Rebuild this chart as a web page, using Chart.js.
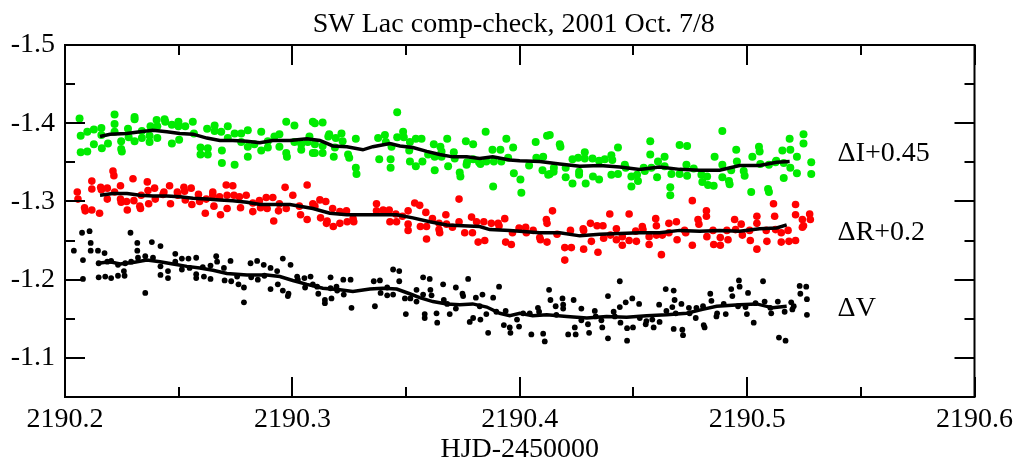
<!DOCTYPE html>
<html>
<head>
<meta charset="utf-8">
<title>SW Lac comp-check</title>
<script src="https://cdn.jsdelivr.net/npm/chart.js@4/dist/chart.umd.min.js"></script>
<style>
    html, body { margin: 0; padding: 0; background: #fff; }
    #wrap { width: 1019px; height: 461px; }
</style>
</head>
<body>
<div id="wrap"><canvas id="chart" width="1019" height="461"></canvas></div>
<script>
// HJD-2450000, magnitude differences
const iPoints = [
    [2190.2064,-1.406],[2190.2069,-1.384],[2190.2069,-1.363],[2190.2098,-1.389],[2190.2098,-1.364],
    [2190.2127,-1.392],[2190.2127,-1.373],[2190.2160,-1.394],[2190.2160,-1.385],[2190.2162,-1.368],
    [2190.2189,-1.374],[2190.2218,-1.411],[2190.2218,-1.399],[2190.2218,-1.389],[2190.2247,-1.377],
    [2190.2247,-1.367],[2190.2250,-1.364],[2190.2277,-1.393],[2190.2280,-1.382],[2190.2306,-1.408],
    [2190.2306,-1.405],[2190.2306,-1.377],[2190.2338,-1.390],[2190.2338,-1.381],[2190.2372,-1.384],
    [2190.2372,-1.376],[2190.2376,-1.396],[2190.2403,-1.404],[2190.2406,-1.396],[2190.2406,-1.381],
    [2190.2438,-1.405],[2190.2441,-1.402],[2190.2470,-1.398],[2190.2470,-1.374],[2190.2499,-1.402],
    [2190.2499,-1.396],[2190.2502,-1.379],[2190.2529,-1.396],[2190.2562,-1.402],[2190.2567,-1.387],
    [2190.2596,-1.369],[2190.2596,-1.360],[2190.2625,-1.393],[2190.2628,-1.368],[2190.2628,-1.360],
    [2190.2658,-1.397],[2190.2658,-1.390],[2190.2687,-1.389],[2190.2690,-1.365],[2190.2690,-1.349],
    [2190.2716,-1.396],[2190.2716,-1.381],[2190.2746,-1.387],[2190.2746,-1.347],[2190.2775,-1.387],
    [2190.2775,-1.376],[2190.2804,-1.391],[2190.2804,-1.370],[2190.2804,-1.357],[2190.2833,-1.373],
    [2190.2863,-1.389],[2190.2863,-1.365],[2190.2892,-1.377],[2190.2892,-1.369],[2190.2921,-1.383],
    [2190.2943,-1.386],[2190.2943,-1.370],[2190.2973,-1.402],[2190.2973,-1.362],[2190.2976,-1.357],
    [2190.3009,-1.397],[2190.3009,-1.376],[2190.3039,-1.373],[2190.3039,-1.366],[2190.3068,-1.376],
    [2190.3075,-1.383],[2190.3090,-1.402],[2190.3090,-1.362],
    [2190.3099,-1.400],[2190.3099,-1.373],[2190.3099,-1.362],[2190.3133,-1.401],[2190.3133,-1.371],
    [2190.3133,-1.362],[2190.3158,-1.383],[2190.3162,-1.386],[2190.3182,-1.357],[2190.3187,-1.369],
    [2190.3191,-1.381],[2190.3216,-1.387],[2190.3221,-1.377],[2190.3245,-1.360],[2190.3250,-1.356],
    [2190.3279,-1.380],[2190.3279,-1.343],[2190.3282,-1.335],[2190.3377,-1.381],[2190.3382,-1.354],
    [2190.3407,-1.385],[2190.3411,-1.376],[2190.3432,-1.354],[2190.3432,-1.343],[2190.3436,-1.370],
    [2190.3461,-1.414],[2190.3461,-1.382],[2190.3487,-1.389],[2190.3490,-1.382],[2190.3514,-1.365],
    [2190.3517,-1.351],[2190.3517,-1.376],[2190.3543,-1.380],[2190.3543,-1.345],[2190.3568,-1.380],
    [2190.3572,-1.351],[2190.3597,-1.360],[2190.3622,-1.373],[2190.3626,-1.357],[2190.3626,-1.340],
    [2190.3651,-1.370],[2190.3656,-1.364],[2190.3656,-1.357],[2190.3681,-1.380],[2190.3685,-1.345],
    [2190.3710,-1.363],[2190.3714,-1.355],[2190.3736,-1.337],[2190.3739,-1.332],[2190.3763,-1.377],
    [2190.3766,-1.347],[2190.3768,-1.350],[2190.3795,-1.373],[2190.3795,-1.354],[2190.3821,-1.350],
    [2190.3827,-1.348],[2190.3850,-1.389],[2190.3853,-1.351],[2190.3880,-1.366],[2190.3883,-1.319],
    [2190.3886,-1.351],[2190.3915,-1.366],[2190.3919,-1.351],[2190.3941,-1.380],[2190.3949,-1.356],
    [2190.3971,-1.369],[2190.3974,-1.336],[2190.4003,-1.328],[2190.4007,-1.311],[2190.4041,-1.346],
    [2190.4070,-1.376],[2190.4073,-1.356],[2190.4100,-1.340],[2190.4103,-1.357],[2190.4120,-1.384],
    [2190.4125,-1.334],[2190.4149,-1.338],
    [2190.4132,-1.385],[2190.4132,-1.335],[2190.4150,-1.343],[2190.4176,-1.373],[2190.4179,-1.370],
    [2190.4202,-1.343],[2190.4202,-1.331],[2190.4232,-1.354],[2190.4232,-1.323],[2190.4257,-1.356],
    [2190.4261,-1.338],[2190.4261,-1.334],[2190.4286,-1.363],[2190.4286,-1.355],[2190.4290,-1.323],
    [2190.4320,-1.355],[2190.4322,-1.332],[2190.4349,-1.352],[2190.4349,-1.328],[2190.4374,-1.354],
    [2190.4403,-1.359],[2190.4403,-1.334],[2190.4407,-1.353],[2190.4432,-1.369],[2190.4432,-1.335],
    [2190.4462,-1.347],[2190.4466,-1.343],[2190.4491,-1.332],[2190.4491,-1.319],[2190.4516,-1.334],
    [2190.4520,-1.326],[2190.4545,-1.343],[2190.4550,-1.339],[2190.4574,-1.377],[2190.4574,-1.360],
    [2190.4579,-1.343],[2190.4604,-1.331],[2190.4608,-1.351],[2190.4637,-1.357],[2190.4637,-1.345],
    [2190.4662,-1.318],[2190.4662,-1.308],[2190.4667,-1.335],[2190.4703,-1.372],[2190.4703,-1.335],
    [2190.4733,-1.347],[2190.4736,-1.371],[2190.4736,-1.333],[2190.4765,-1.342],[2190.4799,-1.334],
    [2190.4803,-1.325],[2190.4824,-1.332],[2190.4828,-1.321],[2190.4853,-1.320],[2190.4857,-1.357],
    [2190.4891,-1.390],[2190.4891,-1.347],[2190.4891,-1.331],[2190.4920,-1.326],[2190.4923,-1.322],
    [2190.4930,-1.340],[2190.4952,-1.366],[2190.4955,-1.351],[2190.4985,-1.339],[2190.4989,-1.333],
    [2190.5018,-1.312],[2190.5023,-1.357],[2190.5052,-1.370],[2190.5055,-1.364],[2190.5058,-1.348],
    [2190.5092,-1.316],[2190.5096,-1.312],[2190.5096,-1.347],[2190.5125,-1.350],[2190.5128,-1.352],
    [2190.5155,-1.365],
    [2190.5161,-1.349],[2190.5161,-1.330],[2190.5187,-1.380],[2190.5190,-1.366],[2190.5190,-1.343],
    [2190.5219,-1.357],[2190.5219,-1.336],[2190.5248,-1.386],[2190.5248,-1.374],[2190.5282,-1.350],
    [2190.5282,-1.335]
];

const rPoints = [
    [2190.2054,-1.312],[2190.2057,-1.303],[2190.2086,-1.292],[2190.2089,-1.288],[2190.2118,-1.326],
    [2190.2118,-1.316],[2190.2118,-1.289],[2190.2152,-1.285],[2190.2157,-1.318],[2190.2160,-1.315],
    [2190.2186,-1.317],[2190.2186,-1.303],[2190.2211,-1.339],[2190.2215,-1.333],[2190.2218,-1.312],
    [2190.2244,-1.320],[2190.2244,-1.303],[2190.2247,-1.299],[2190.2271,-1.300],[2190.2274,-1.289],
    [2190.2299,-1.329],[2190.2303,-1.301],[2190.2329,-1.294],[2190.2332,-1.291],[2190.2335,-1.308],
    [2190.2362,-1.325],[2190.2365,-1.314],[2190.2368,-1.297],[2190.2394,-1.317],[2190.2397,-1.303],
    [2190.2431,-1.309],[2190.2435,-1.312],[2190.2460,-1.320],[2190.2464,-1.297],[2190.2494,-1.312],
    [2190.2496,-1.308],[2190.2523,-1.318],[2190.2526,-1.313],[2190.2529,-1.302],[2190.2555,-1.317],
    [2190.2558,-1.296],[2190.2587,-1.309],[2190.2592,-1.300],[2190.2617,-1.285],[2190.2621,-1.303],
    [2190.2650,-1.312],[2190.2650,-1.308],[2190.2655,-1.294],[2190.2680,-1.306],[2190.2684,-1.283],
    [2190.2709,-1.321],[2190.2713,-1.308],[2190.2713,-1.291],[2190.2738,-1.320],[2190.2743,-1.308],
    [2190.2767,-1.306],[2190.2772,-1.292],[2190.2797,-1.308],[2190.2826,-1.298],[2190.2826,-1.287],
    [2190.2855,-1.301],[2190.2860,-1.292],[2190.2885,-1.305],[2190.2889,-1.291],[2190.2914,-1.305],
    [2190.2918,-1.275],[2190.2939,-1.288],[2190.2943,-1.297],[2190.2968,-1.318],[2190.2973,-1.291],
    [2190.3002,-1.308],[2190.3031,-1.294],[2190.3036,-1.283],[2190.3065,-1.321],[2190.3065,-1.277],
    [2190.3090,-1.297],
    [2190.3099,-1.294],[2190.3121,-1.302],[2190.3124,-1.279],[2190.3147,-1.300],[2190.3150,-1.272],
    [2190.3153,-1.275],[2190.3177,-1.291],[2190.3180,-1.268],[2190.3209,-1.287],[2190.3209,-1.272],
    [2190.3238,-1.288],[2190.3241,-1.274],[2190.3267,-1.278],[2190.3270,-1.274],[2190.3370,-1.297],
    [2190.3370,-1.288],[2190.3399,-1.289],[2190.3402,-1.288],[2190.3426,-1.289],[2190.3429,-1.274],
    [2190.3455,-1.284],[2190.3458,-1.274],[2190.3484,-1.281],[2190.3509,-1.288],[2190.3509,-1.271],
    [2190.3509,-1.263],[2190.3538,-1.298],[2190.3560,-1.295],[2190.3563,-1.268],[2190.3587,-1.286],
    [2190.3590,-1.268],[2190.3590,-1.252],[2190.3616,-1.278],[2190.3645,-1.272],[2190.3645,-1.264],
    [2190.3648,-1.260],[2190.3675,-1.283],[2190.3678,-1.271],[2190.3704,-1.267],[2190.3733,-1.303],
    [2190.3733,-1.274],[2190.3758,-1.260],[2190.3788,-1.280],[2190.3792,-1.260],[2190.3810,-1.274],
    [2190.3817,-1.248],[2190.3842,-1.274],[2190.3846,-1.250],[2190.3875,-1.272],[2190.3905,-1.272],
    [2190.3909,-1.269],[2190.3934,-1.278],[2190.3938,-1.248],[2190.3963,-1.245],[2190.3968,-1.260],
    [2190.3997,-1.266],[2190.4026,-1.267],[2190.4029,-1.260],[2190.4059,-1.263],[2190.4088,-1.254],
    [2190.4091,-1.251],[2190.4117,-1.277],[2190.4120,-1.272],[2190.4120,-1.248],[2190.4144,-1.288],
    [2190.4164,-1.258],[2190.4198,-1.241],[2190.4198,-1.225],[2190.4223,-1.263],[2190.4227,-1.241],
    [2190.4279,-1.265],[2190.4281,-1.263],[2190.4281,-1.239],[2190.4311,-1.272],[2190.4315,-1.249],
    [2190.4340,-1.269],[2190.4344,-1.235],[2190.4366,-1.269],[2190.4369,-1.253],[2190.4396,-1.284],
    [2190.4399,-1.257],[2190.4425,-1.265],[2190.4425,-1.251],[2190.4451,-1.255],[2190.4451,-1.244],
    [2190.4481,-1.284],[2190.4481,-1.250],[2190.4510,-1.262],[2190.4513,-1.249],[2190.4539,-1.268],
    [2190.4542,-1.264],[2190.4569,-1.255],[2190.4569,-1.245],[2190.4598,-1.278],[2190.4601,-1.269],
    [2190.4601,-1.257],[2190.4623,-1.232],[2190.4627,-1.257],[2190.4656,-1.272],[2190.4656,-1.260],
    [2190.4689,-1.274],[2190.4692,-1.251],[2190.4725,-1.263],[2190.4730,-1.260],[2190.4759,-1.301],
    [2190.4759,-1.244],[2190.4784,-1.277],[2190.4788,-1.271],[2190.4821,-1.288],[2190.4821,-1.281],
    [2190.4823,-1.255],[2190.4850,-1.263],[2190.4853,-1.245],[2190.4882,-1.254],[2190.4882,-1.244],
    [2190.4911,-1.263],[2190.4916,-1.251],[2190.4945,-1.277],[2190.4949,-1.264],[2190.4974,-1.271],
    [2190.4979,-1.257],[2190.5011,-1.263],[2190.5014,-1.250],[2190.5043,-1.281],[2190.5043,-1.272],
    [2190.5043,-1.239],[2190.5084,-1.263],[2190.5087,-1.249],[2190.5116,-1.297],[2190.5121,-1.281],
    [2190.5125,-1.264],[2190.5150,-1.260],[2190.5150,-1.248],
    [2190.5180,-1.263],[2190.5184,-1.249],[2190.5213,-1.296],[2190.5213,-1.283],[2190.5213,-1.250],
    [2190.5243,-1.277],[2190.5243,-1.267],[2190.5248,-1.269],[2190.5275,-1.284],[2190.5278,-1.277]
];

const vPoints = [
    [2190.2039,-1.237],[2190.2075,-1.260],[2190.2079,-1.225],[2190.2079,-1.201],[2190.2108,-1.262],
    [2190.2113,-1.247],[2190.2113,-1.237],[2190.2145,-1.237],[2190.2148,-1.221],[2190.2148,-1.203],
    [2190.2174,-1.234],[2190.2177,-1.204],[2190.2186,-1.223],[2190.2203,-1.224],[2190.2203,-1.202],
    [2190.2233,-1.219],[2190.2233,-1.205],[2190.2259,-1.211],[2190.2262,-1.205],[2190.2265,-1.221],
    [2190.2288,-1.260],[2190.2291,-1.223],[2190.2318,-1.247],[2190.2318,-1.237],[2190.2321,-1.228],
    [2190.2353,-1.230],[2190.2353,-1.183],[2190.2382,-1.248],[2190.2387,-1.228],[2190.2420,-1.243],
    [2190.2420,-1.217],[2190.2420,-1.206],[2190.2453,-1.211],[2190.2453,-1.202],[2190.2485,-1.233],
    [2190.2485,-1.223],[2190.2514,-1.227],[2190.2514,-1.213],[2190.2543,-1.227],[2190.2548,-1.215],
    [2190.2577,-1.228],[2190.2577,-1.207],[2190.2577,-1.202],[2190.2606,-1.216],[2190.2611,-1.204],
    [2190.2640,-1.218],[2190.2640,-1.201],[2190.2665,-1.230],[2190.2669,-1.223],[2190.2699,-1.215],
    [2190.2702,-1.199],[2190.2728,-1.224],[2190.2731,-1.198],[2190.2757,-1.204],[2190.2763,-1.194],
    [2190.2787,-1.190],[2190.2787,-1.171],[2190.2816,-1.221],[2190.2819,-1.203],[2190.2845,-1.224],
    [2190.2848,-1.200],[2190.2874,-1.219],[2190.2877,-1.205],[2190.2904,-1.215],[2190.2904,-1.188],
    [2190.2933,-1.211],[2190.2936,-1.194],[2190.2958,-1.227],[2190.2958,-1.186],[2190.2980,-1.179],
    [2190.2983,-1.182],[2190.2992,-1.219],[2190.3021,-1.204],[2190.3024,-1.200],[2190.3053,-1.202],
    [2190.3056,-1.190],[2190.3080,-1.204],[2190.3090,-1.194],
    [2190.3109,-1.191],[2190.3114,-1.182],[2190.3143,-1.174],[2190.3143,-1.170],[2190.3168,-1.203],
    [2190.3168,-1.189],[2190.3172,-1.176],[2190.3194,-1.191],[2190.3197,-1.186],[2190.3224,-1.200],
    [2190.3226,-1.181],[2190.3256,-1.200],[2190.3260,-1.164],[2190.3358,-1.198],[2190.3363,-1.166],
    [2190.3385,-1.199],[2190.3388,-1.183],[2190.3417,-1.190],[2190.3417,-1.180],[2190.3443,-1.213],
    [2190.3443,-1.181],[2190.3470,-1.211],[2190.3470,-1.198],[2190.3495,-1.176],[2190.3499,-1.156],
    [2190.3519,-1.176],[2190.3546,-1.187],[2190.3546,-1.172],[2190.3575,-1.203],[2190.3575,-1.181],
    [2190.3582,-1.156],[2190.3582,-1.151],[2190.3604,-1.201],[2190.3607,-1.187],[2190.3612,-1.180],
    [2190.3634,-1.157],[2190.3637,-1.145],[2190.3663,-1.194],[2190.3666,-1.174],[2190.3681,-1.169],
    [2190.3692,-1.156],[2190.3719,-1.190],[2190.3719,-1.163],[2190.3748,-1.182],[2190.3751,-1.179],
    [2190.3773,-1.201],[2190.3780,-1.146],[2190.3795,-1.151],[2190.3807,-1.177],[2190.3824,-1.166],
    [2190.3827,-1.149],[2190.3836,-1.181],[2190.3853,-1.156],[2190.3861,-1.132],[2190.3883,-1.177],
    [2190.3897,-1.159],[2190.3909,-1.191],[2190.3930,-1.142],[2190.3938,-1.160],[2190.3956,-1.139],
    [2190.3959,-1.132],[2190.3988,-1.149],[2190.3997,-1.140],[2190.4015,-1.157],[2190.4044,-1.157],
    [2190.4051,-1.130],[2190.4080,-1.164],[2190.4085,-1.159],[2190.4103,-1.131],[2190.4110,-1.121],
    [2190.4129,-1.187],[2190.4135,-1.174],
    [2190.4158,-1.166],[2190.4161,-1.155],[2190.4188,-1.176],[2190.4191,-1.168],[2190.4191,-1.163],
    [2190.4213,-1.130],[2190.4237,-1.174],[2190.4242,-1.139],[2190.4246,-1.130],[2190.4271,-1.163],
    [2190.4271,-1.148],[2190.4300,-1.143],[2190.4305,-1.132],[2190.4330,-1.160],[2190.4334,-1.153],
    [2190.4359,-1.148],[2190.4363,-1.139],[2190.4388,-1.179],[2190.4388,-1.125],[2190.4413,-1.159],
    [2190.4418,-1.153],[2190.4440,-1.198],[2190.4440,-1.165],[2190.4443,-1.145],[2190.4466,-1.171],
    [2190.4472,-1.138],[2190.4472,-1.122],[2190.4495,-1.176],[2190.4498,-1.139],[2190.4525,-1.169],
    [2190.4528,-1.151],[2190.4554,-1.143],[2190.4557,-1.147],[2190.4583,-1.149],[2190.4589,-1.139],
    [2190.4613,-1.168],[2190.4615,-1.146],[2190.4642,-1.188],[2190.4645,-1.160],[2190.4671,-1.165],
    [2190.4677,-1.186],[2190.4677,-1.137],[2190.4681,-1.174],[2190.4686,-1.157],[2190.4711,-1.169],
    [2190.4715,-1.136],[2190.4718,-1.129],[2190.4744,-1.164],[2190.4747,-1.157],[2190.4774,-1.151],
    [2190.4777,-1.164],[2190.4806,-1.166],[2190.4809,-1.142],[2190.4813,-1.139],[2190.4838,-1.182],
    [2190.4843,-1.173],[2190.4865,-1.153],[2190.4868,-1.157],[2190.4897,-1.169],[2190.4906,-1.156],
    [2190.4930,-1.188],[2190.4935,-1.179],[2190.4960,-1.166],[2190.4964,-1.199],[2190.4967,-1.191],
    [2190.4993,-1.165],[2190.4999,-1.156],[2190.5004,-1.183],[2190.5029,-1.145],[2190.5037,-1.170],
    [2190.5070,-1.198],[2190.5077,-1.172],[2190.5102,-1.164],[2190.5106,-1.157],[2190.5135,-1.172],
    [2190.5140,-1.126],[2190.5165,-1.159],[2190.5169,-1.122],[2190.5194,-1.171],[2190.5199,-1.162],
    [2190.5205,-1.166],[2190.5231,-1.192],[2190.5234,-1.182],[2190.5260,-1.191],[2190.5263,-1.175],
    [2190.5263,-1.155]
];

// running means drawn through each band
const iSmooth = [
    [2190.2154,-1.383],[2190.2198,-1.386],[2190.2271,-1.387],[2190.2330,-1.389],[2190.2387,-1.391],
    [2190.2448,-1.389],[2190.2505,-1.387],[2190.2563,-1.386],[2190.2624,-1.381],[2190.2681,-1.378],
    [2190.2738,-1.378],[2190.2800,-1.377],[2190.2857,-1.375],[2190.2914,-1.378],[2190.2989,-1.378],
    [2190.3064,-1.380],[2190.3121,-1.378],[2190.3178,-1.371],[2190.3240,-1.370],[2190.3310,-1.366],
    [2190.3354,-1.370],[2190.3429,-1.374],[2190.3473,-1.371],[2190.3530,-1.369],[2190.3591,-1.364],
    [2190.3648,-1.360],[2190.3705,-1.357],[2190.3767,-1.357],[2190.3824,-1.355],[2190.3881,-1.357],
    [2190.3956,-1.353],[2190.4000,-1.352],[2190.4088,-1.351],[2190.4176,-1.348],[2190.4264,-1.345],
    [2190.4352,-1.346],[2190.4440,-1.344],[2190.4527,-1.341],[2190.4615,-1.344],[2190.4703,-1.341],
    [2190.4791,-1.340],[2190.4879,-1.340],[2190.4967,-1.346],[2190.5055,-1.346],[2190.5130,-1.350],
    [2190.5187,-1.351]
];

const rSmooth = [
    [2190.2154,-1.308],[2190.2211,-1.310],[2190.2273,-1.310],[2190.2330,-1.308],[2190.2387,-1.307],
    [2190.2448,-1.307],[2190.2505,-1.306],[2190.2563,-1.304],[2190.2624,-1.303],[2190.2681,-1.302],
    [2190.2738,-1.301],[2190.2800,-1.299],[2190.2857,-1.296],[2190.2914,-1.296],[2190.2989,-1.296],
    [2190.3090,-1.291],[2190.3165,-1.285],[2190.3240,-1.283],[2190.3310,-1.283],[2190.3385,-1.283],
    [2190.3459,-1.283],[2190.3530,-1.279],[2190.3604,-1.274],[2190.3679,-1.270],[2190.3749,-1.269],
    [2190.3824,-1.268],[2190.3868,-1.264],[2190.3956,-1.263],[2190.4000,-1.262],[2190.4088,-1.260],
    [2190.4176,-1.260],[2190.4264,-1.256],[2190.4352,-1.258],[2190.4440,-1.259],[2190.4527,-1.260],
    [2190.4615,-1.260],[2190.4703,-1.263],[2190.4791,-1.262],[2190.4879,-1.263],[2190.4967,-1.262],
    [2190.5055,-1.265],[2190.5130,-1.266],[2190.5174,-1.270]
];

const vSmooth = [
    [2190.2145,-1.221],[2190.2198,-1.223],[2190.2242,-1.220],[2190.2299,-1.222],[2190.2360,-1.225],
    [2190.2418,-1.223],[2190.2475,-1.220],[2190.2536,-1.217],[2190.2593,-1.215],[2190.2651,-1.212],
    [2190.2712,-1.208],[2190.2800,-1.206],[2190.2888,-1.206],[2190.2945,-1.204],[2190.3002,-1.199],
    [2190.3064,-1.194],[2190.3134,-1.189],[2190.3209,-1.187],[2190.3266,-1.185],[2190.3341,-1.188],
    [2190.3398,-1.189],[2190.3459,-1.188],[2190.3516,-1.182],[2190.3560,-1.177],[2190.3618,-1.172],
    [2190.3679,-1.169],[2190.3736,-1.168],[2190.3793,-1.169],[2190.3855,-1.165],[2190.3912,-1.157],
    [2190.3956,-1.154],[2190.4000,-1.157],[2190.4057,-1.154],[2190.4119,-1.155],[2190.4207,-1.153],
    [2190.4295,-1.151],[2190.4382,-1.153],[2190.4470,-1.152],[2190.4558,-1.154],[2190.4646,-1.155],
    [2190.4734,-1.157],[2190.4804,-1.162],[2190.4866,-1.166],[2190.4967,-1.168],[2190.5042,-1.169],
    [2190.5112,-1.164],[2190.5174,-1.166]
];

const seriesLabels = [
    { text: '\u0394I+0.45', x: 2190.5398, y: -1.361 },
    { text: '\u0394R+0.2', x: 2190.5398, y: -1.260 },
    { text: '\u0394V', x: 2190.5398, y: -1.163 }
];

const FONT = "'Liberation Serif', 'DejaVu Serif', serif";
const toXY = arr => arr.map(p => ({ x: p[0], y: p[1] }));
const isMajor = v => Math.abs(Math.round(v * 100)) % 10 === 0;

// Frame, inward ticks on all four sides, title and band labels
const framePlugin = {
    id: 'framePlugin',
    afterDraw(chart) {
        const { ctx, chartArea: a, scales: { x, y } } = chart;
        ctx.save();
        ctx.strokeStyle = '#000';
        ctx.lineWidth = 2;
        ctx.strokeRect(a.left, a.top, a.right - a.left, a.bottom - a.top);

        ctx.beginPath();
        x.ticks.forEach(t => {
            const px = Math.round(x.getPixelForValue(t.value));
            const len = isMajor(t.value) ? 20 : 10;
            ctx.moveTo(px, a.bottom); ctx.lineTo(px, a.bottom - len);
            ctx.moveTo(px, a.top); ctx.lineTo(px, a.top + len);
        });
        y.ticks.forEach(t => {
            const py = Math.round(y.getPixelForValue(t.value));
            const len = isMajor(t.value) ? 20 : 10;
            ctx.moveTo(a.left, py); ctx.lineTo(a.left + len, py);
            ctx.moveTo(a.right, py); ctx.lineTo(a.right - len, py);
        });
        ctx.stroke();

        ctx.fillStyle = '#000';
        ctx.font = '28px ' + FONT;
        ctx.textAlign = 'center';
        ctx.textBaseline = 'alphabetic';
        ctx.fillText('SW Lac comp-check, 2001 Oct. 7/8', (a.left + a.right) / 2 - 6, 32);
        ctx.fillText('HJD-2450000', (a.left + a.right) / 2, 457);

        ctx.textAlign = 'left';
        ctx.textBaseline = 'middle';
        seriesLabels.forEach(l => {
            ctx.fillText(l.text, x.getPixelForValue(l.x), y.getPixelForValue(l.y));
        });
        ctx.restore();
    }
};

const ctx = document.getElementById('chart').getContext('2d');
new Chart(ctx, {
    type: 'scatter',
    data: {
        datasets: [
            { data: toXY(iSmooth), showLine: true, borderColor: '#000', borderWidth: 3.5, pointRadius: 0, tension: 0, order: 0 },
            { data: toXY(rSmooth), showLine: true, borderColor: '#000', borderWidth: 3.5, pointRadius: 0, tension: 0, order: 0 },
            { data: toXY(vSmooth), showLine: true, borderColor: '#000', borderWidth: 3.5, pointRadius: 0, tension: 0, order: 0 },
            { data: toXY(iPoints), backgroundColor: 'rgb(0,235,0)', borderWidth: 0, pointRadius: 4, order: 1 },
            { data: toXY(rPoints), backgroundColor: 'rgb(255,0,0)', borderWidth: 0, pointRadius: 3.8, order: 1 },
            { data: toXY(vPoints), backgroundColor: '#000', borderWidth: 0, pointRadius: 2.9, order: 1 }
        ]
    },
    options: {
        responsive: false,
        animation: false,
        layout: { padding: { top: 45, right: 44, left: 0, bottom: 0 } },
        plugins: { legend: { display: false }, tooltip: { enabled: false }, title: { display: false } },
        scales: {
            x: {
                type: 'linear',
                min: 2190.2,
                max: 2190.6,
                afterFit: s => { s.height = 64; },
                grid: { display: false, drawTicks: false },
                border: { display: false },
                ticks: {
                    stepSize: 0.05,
                    includeBounds: false,
                    autoSkip: false,
                    maxRotation: 0,
                    padding: 6,
                    color: '#000',
                    font: { family: FONT, size: 28 },
                    callback: v => isMajor(v) ? v.toFixed(1) : ''
                }
            },
            y: {
                type: 'linear',
                min: -1.5,
                max: -1.05,
                reverse: true,
                afterFit: s => { s.width = 65; },
                grid: { display: false, drawTicks: false },
                border: { display: false },
                ticks: {
                    stepSize: 0.05,
                    includeBounds: false,
                    autoSkip: false,
                    padding: 10,
                    color: '#000',
                    font: { family: FONT, size: 28 },
                    callback: v => isMajor(v) ? v.toFixed(1) : ''
                }
            }
        }
    },
    plugins: [framePlugin]
});
</script>
</body>
</html>
